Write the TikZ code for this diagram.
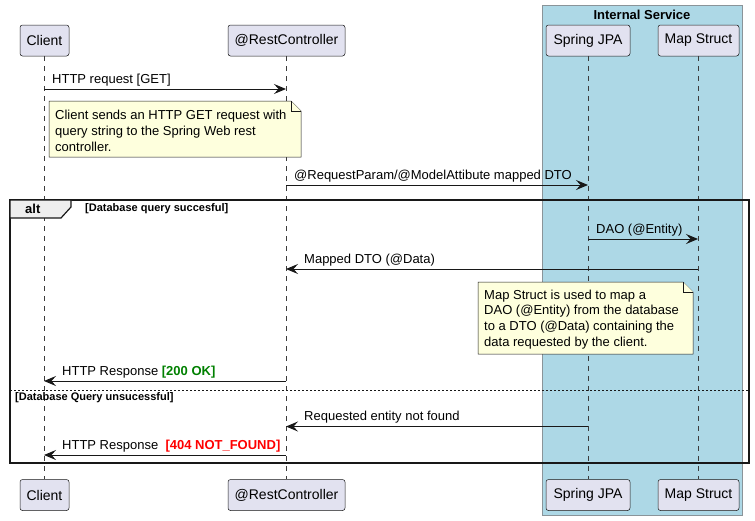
\documentclass[tikz,border=0pt]{standalone}
\usepackage{fontspec}
\setmainfont{Liberation Sans}
\usetikzlibrary{arrows.meta}
\definecolor{partfill}{HTML}{E2E2F0}
\definecolor{partdraw}{HTML}{181818}
\definecolor{boxfill}{HTML}{ADD8E6}
\definecolor{boxdraw}{HTML}{8A9499}
\definecolor{notefill}{HTML}{FEFFDD}
\definecolor{tabfill}{HTML}{EEEEEE}
\definecolor{okgreen}{HTML}{008000}
\definecolor{nfred}{HTML}{FF0000}
\begin{document}
\begin{tikzpicture}[x=1pt,y=-1pt,
  part/.style={draw=partdraw, fill=partfill, rounded corners=2.5pt, line width=0.5pt,
    inner sep=0pt, minimum height=31pt, font=\fontsize{14}{16}\selectfont},
  life/.style={draw=partdraw!85, line width=0.5pt, dash pattern=on 5pt off 5pt},
  msg/.style={draw=partdraw, line width=1pt, -{Stealth[length=12pt,width=10pt,inset=4.5pt]}},
  lbl/.style={anchor=base west, inner sep=0pt, font=\fontsize{13}{15}\selectfont},
  notebox/.style={draw=partdraw, fill=notefill, line width=0.5pt},
  notetext/.style={anchor=north west, inner sep=0pt, align=left, font=\fontsize{13}{15.8}\selectfont},
  condlbl/.style={anchor=base west, inner sep=0pt, font=\fontsize{11}{13}\selectfont\bfseries},
]
\useasboundingbox (0,0) rectangle (755,520);

% Internal Service box
\draw[fill=boxfill, draw=boxdraw, line width=0.7pt] (542,5) rectangle (742,515);
\node[anchor=base, inner sep=0pt, font=\fontsize{13}{15}\selectfont\bfseries] (boxtitle) at (642,19) {Internal Service};

% participants top
\node[part, minimum width=49pt]  (clientT) at (44.5,40.5) {Client};
\node[part, minimum width=117pt] (restT)   at (286.5,40.5) {@RestController};
\node[part, minimum width=84pt]  (jpaT)    at (588,40.5) {Spring JPA};
\node[part, minimum width=81pt]  (mapT)    at (698.5,40.5) {Map Struct};
% participants bottom
\node[part, minimum width=49pt]  (clientB) at (44.5,495) {Client};
\node[part, minimum width=117pt] (restB)   at (286.5,495) {@RestController};
\node[part, minimum width=84pt]  (jpaB)    at (588,495) {Spring JPA};
\node[part, minimum width=81pt]  (mapB)    at (698.5,495) {Map Struct};

% lifelines
\coordinate (cL) at (44,0);
\coordinate (rL) at (286,0);
\coordinate (jL) at (588,0);
\coordinate (mL) at (698,0);
\draw[life] (cL |- clientT.south) -- (cL |- clientB.north);
\draw[life] (rL |- restT.south) -- (rL |- restB.north);
\draw[life] (jL |- jpaT.south) -- (jL |- jpaB.north);
\draw[life] (mL |- mapT.south) -- (mL |- mapB.north);

% message 1
\coordinate (m1a) at (44,89);
\coordinate (m1b) at (286,89);
\draw[msg] (m1a) -- (m1b);
\node[lbl] (t1) at (52,83) {HTTP request [GET]};

% note 1
\draw[notebox] (49,101) -- (291,101) -- (301,111) -- (301,157) -- (49,157) -- cycle;
\draw[notebox] (291,101) -- (291,111) -- (301,111);
\node[notetext] (note1) at (55,110) {Client sends an HTTP GET request with\\query string to the Spring Web rest\\controller.};

% message 2
\coordinate (m2a) at (286,185);
\coordinate (m2b) at (588,185);
\draw[msg] (m2a) -- (m2b);
\node[lbl] (t2) at (294,179) {@RequestParam/@ModelAttibute mapped DTO};

% alt frame
\draw[line width=1.6pt, draw=partdraw] (10,200) rectangle (749,463);
\draw[line width=1.2pt, draw=partdraw, fill=tabfill] (10,200) -- (71,200) -- (71,207) -- (61,218) -- (10,218) -- cycle;
\node[anchor=base west, inner sep=0pt, font=\fontsize{13}{15}\selectfont\bfseries] (altlbl) at (25,213.5) {alt};
\node[condlbl] (cond1) at (85,211.5) {[Database query succesful]};

% message 3
\coordinate (m3a) at (588,239);
\coordinate (m3b) at (698,239);
\draw[msg] (m3a) -- (m3b);
\node[lbl] (t3) at (596,233) {DAO (@Entity)};

% message 4
\coordinate (m4a) at (698,269);
\coordinate (m4b) at (286,269);
\draw[msg] (m4a) -- (m4b);
\node[lbl] (t4) at (304,263) {Mapped DTO (@Data)};

% note 2
\draw[notebox] (478,282) -- (683,282) -- (693,292) -- (693,354) -- (478,354) -- cycle;
\draw[notebox] (683,282) -- (683,292) -- (693,292);
\node[notetext] (note2) at (484,289.5) {Map Struct is used to map a\\DAO (@Entity) from the database\\to a DTO (@Data) containing the\\data requested by the client.};

% message 5
\coordinate (m5a) at (286,381);
\coordinate (m5b) at (44,381);
\draw[msg] (m5a) -- (m5b);
\node[lbl] (t5) at (62,375) {HTTP Response \textbf{\color{okgreen}[200 OK]}};

% else separator
\coordinate (sepa) at (10,390.5);
\coordinate (sepb) at (749,390.5);
\draw[draw=partdraw, line width=0.8pt, dash pattern=on 2pt off 2pt] (sepa) -- (sepb);
\node[condlbl] (cond2) at (15,400) {[Database Query unsucessful]};

% message 6
\coordinate (m6a) at (588,426.5);
\coordinate (m6b) at (286,426.5);
\draw[msg] (m6a) -- (m6b);
\node[lbl] (t6) at (304,420.5) {Requested entity not found};

% message 7
\coordinate (m7a) at (286,455);
\coordinate (m7b) at (44,455);
\draw[msg] (m7a) -- (m7b);
\node[lbl] (t7) at (62,449) {HTTP Response\ \ \textbf{\color{nfred}[404 NOT\_FOUND]}};
\end{tikzpicture}
\end{document}
